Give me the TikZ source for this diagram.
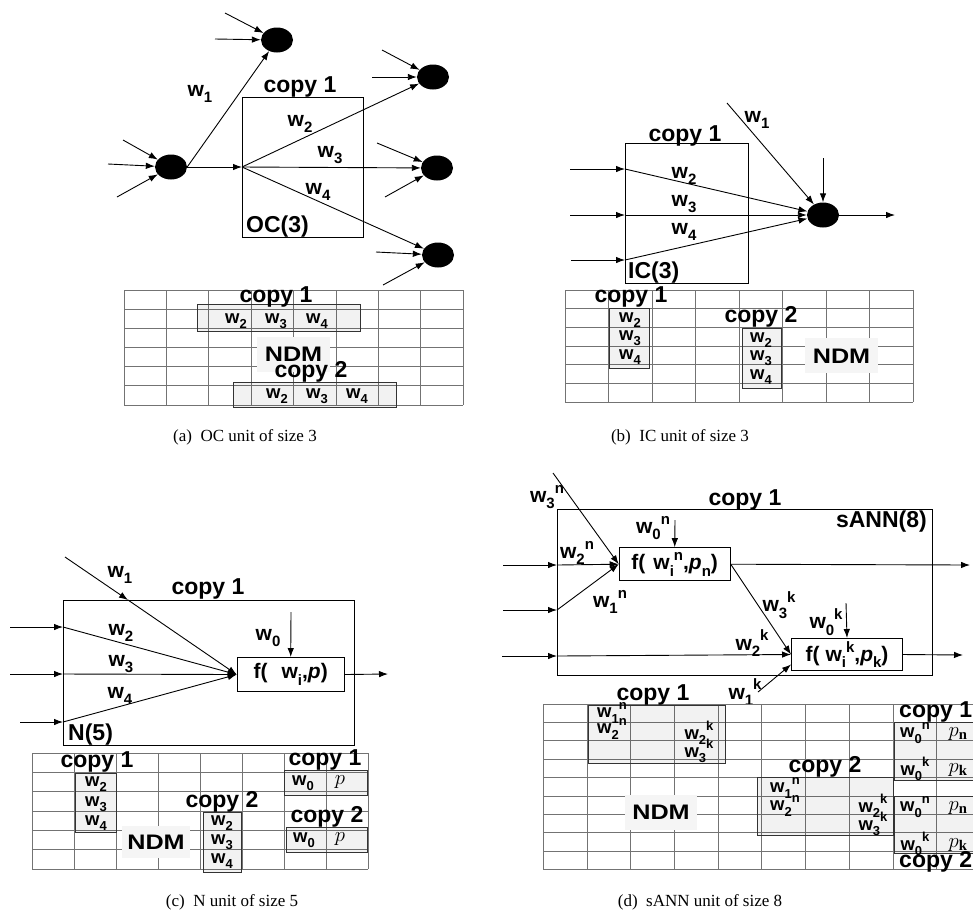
\documentclass[tikz,border=0pt]{standalone}
\usepackage{fontspec}
\setmainfont{Liberation Serif}
\newfontfamily\lf{Liberation Sans}
\usetikzlibrary{shapes.geometric,arrows.meta,fit}
\newcommand\W[2][15]{w\raisebox{-0.3em}{\fontsize{#1}{#1}\selectfont #2}}
\newcommand\WS[3][15]{w\raisebox{-0.3em}{\fontsize{#1}{#1}\selectfont #2}\raisebox{0.45em}{\fontsize{#1}{#1}\selectfont #3}}
\newcommand\tablegrid[6]{%
  \foreach \i in {0,...,#3} \draw[gridl] ({#1+\i*#5},#2) -- ({#1+\i*#5},{#2+#4*#6});
  \foreach \j in {0,...,#4} \draw[gridl] (#1,{#2+\j*#6}) -- ({#1+#3*#5},{#2+\j*#6});
}
\begin{document}
\begin{tikzpicture}[x=1pt,y=-1pt,
  lab/.style={font=\lf\bfseries\fontsize{21}{21}\selectfont, inner sep=0},
  cp/.style={font=\lf\bfseries\fontsize{23}{23}\selectfont, inner sep=0},
  tl/.style={font=\lf\bfseries\fontsize{18.5}{18.5}\selectfont, inner sep=0},
  ml/.style={font=\fontsize{21}{21}\selectfont, inner sep=0},
  neuron/.style={ellipse, fill=black, minimum width=32pt, minimum height=25pt, inner sep=0},
  arr/.style={-{Latex[length=9pt,width=6.5pt]}, line width=0.9pt},
  boxf/.style={draw, line width=1pt, inner sep=0, outer sep=0},
  gridl/.style={draw=black!55, line width=0.8pt},
  cbox/.style={draw=black!80, line width=1pt, fill=black, fill opacity=0.05, inner sep=0},
  ndm/.style={fill=black!4, inner sep=0, font=\lf\bfseries\fontsize{21}{21}\selectfont},
  capt/.style={font=\fontsize{17}{17}\selectfont, inner sep=0},
  fbox/.style={draw, line width=1pt, inner sep=0, font=\lf\bfseries\fontsize{21}{21}\selectfont}
]
\clip (0,0) rectangle (973,914);
\fill[white] (0,0) rectangle (973,914);

% ================= (a) =================
\node[neuron] (aT) at (277,40) {};
\node[neuron] (aS) at (171,167) {};
\node[neuron] (aR1) at (433,77) {};
\node[neuron] (aR2) at (437,168) {};
\node[neuron] (aR3) at (438,255) {};
\node[boxf, fit={(242,97)(363,237)}] (aBox) {};
\node[cp] (aCopy) at (300,87) {copy 1};
\node[cp, anchor=west] (aOC) at (246,227) {OC(3)};
\coordinate (aSplit) at (242,167);
\draw[arr] (aS) -- (aSplit);
\draw[arr] (aS.east) -- (aT);
\draw[arr] (aSplit) -- (aR1);
\draw[arr] (aSplit) -- (aR2);
\draw[arr] (aSplit) -- (aR3);
\coordinate (aT1) at (225,13); \coordinate (aT2) at (215,39);
\coordinate (aS1) at (123,140); \coordinate (aS2) at (108,164); \coordinate (aS3) at (117,197);
\coordinate (aR1a) at (382,50); \coordinate (aR1b) at (372,77);
\coordinate (aR2a) at (377,143); \coordinate (aR2b) at (385,197);
\coordinate (aR3a) at (376,252); \coordinate (aR3b) at (383,285);
\foreach \s/\t in {aT1/aT,aT2/aT,aS1/aS,aS2/aS,aS3/aS,aR1a/aR1,aR1b/aR1,aR2a/aR2,aR2b/aR2,aR3a/aR3,aR3b/aR3}
  \draw[arr] (\s) -- (\t);
\node[lab] (aw1) at (200,94) {\W{1}};
\node[lab] (aw2) at (300,124) {\W{2}};
\node[lab] (aw3) at (330,155) {\W{3}};
\node[lab] (aw4) at (318,192) {\W{4}};
% table (a)
\tablegrid{124}{290}{8}{6}{42.4}{19.17}
\node[cbox, fit={(197,304)(360,331)}] (aC1) {};
\node[cbox, fit={(233,382)(396,407)}] (aC2) {};
\node[tl] (aC1w2) at (236,321) {\W[13]{2}};
\node[tl] (aC1w3) at (276,321) {\W[13]{3}};
\node[tl] (aC1w4) at (317,321) {\W[13]{4}};
\node[tl] (aC2w2) at (277,396) {\W[13]{2}};
\node[tl] (aC2w3) at (317,396) {\W[13]{3}};
\node[tl] (aC2w4) at (357,396) {\W[13]{4}};
\node[ndm, minimum width=73pt, minimum height=35pt] (aNDM) at (293.5,354.5) {\scalebox{1.2}[1]{NDM}};
\node[cp] (aCL1) at (276,297) {copy 1};
\node[cp] (aCL2) at (311,372) {copy 2};
\node[capt] (capA) at (245,437) {(a)\ \ OC unit of size 3};

% ================= (b) =================
\node[boxf, fit={(625,143)(748,283)}] (bBox) {};
\node[neuron] (bN) at (823,215) {};
\node[cp] (bCopy) at (685,136) {copy 1};
\node[cp, anchor=west] (bIC) at (628,273) {IC(3)};
\coordinate (bI2s) at (570,169); \coordinate (bI2e) at (625,169);
\coordinate (bI3s) at (570,215); \coordinate (bI3e) at (625,215);
\coordinate (bI4s) at (571,260); \coordinate (bI4e) at (625,260);
\foreach \k in {2,3,4} {
  \draw[arr] (bI\k s) -- (bI\k e);
  \draw[arr] (bI\k e) -- (bN);
}
\coordinate (bW1) at (727,103);
\draw[arr] (bW1) -- (bN);
\coordinate (bTop) at (823,158);
\draw[arr] (bTop) -- (bN);
\coordinate (bOut) at (895,215);
\draw[arr] (bN) -- (bOut);
\node[lab] (bw1) at (757,120) {\W{1}};
\node[lab] (bw2) at (684,176) {\W{2}};
\node[lab] (bw3) at (684,204) {\W{3}};
\node[lab] (bw4) at (684,232) {\W{4}};
% table (b)
\tablegrid{565}{290}{8}{6}{43.5}{18.7}
\node[cbox, fit={(609,308)(649,368)}] (bC1) {};
\node[cbox, fit={(742,328)(781,388)}] (bC2) {};
\node[tl] (bC1w2) at (630,320) {\W[13]{2}};
\node[tl] (bC1w3) at (630,338) {\W[13]{3}};
\node[tl] (bC1w4) at (630,357) {\W[13]{4}};
\node[tl] (bC2w2) at (761,340) {\W[13]{2}};
\node[tl] (bC2w3) at (761,358) {\W[13]{3}};
\node[tl] (bC2w4) at (761,377) {\W[13]{4}};
\node[ndm, minimum width=73pt, minimum height=35pt] (bNDM) at (841.5,355.8) {\scalebox{1.2}[1]{NDM}};
\node[cp] (bCL1) at (631,297) {copy 1};
\node[cp] (bCL2) at (761,317) {copy 2};
\node[capt] (capB) at (680,437) {(b)\ \ IC unit of size 3};

% ================= (c) =================
\node[boxf, fit={(63,600)(354,745)}] (cBox) {};
\node[fbox, minimum width=107pt, minimum height=34pt] (cF) at (290.7,674.5) {f(\hspace{14pt}\W{i},\textit{p})};
\node[cp] (cCopy) at (208,589) {copy 1};
\node[cp, anchor=west] (cN5) at (68,735) {N(5)};
\coordinate (cW0) at (291,612);
\draw[arr] (cW0) -- (cF.north);
\coordinate (cOut) at (388,674);
\draw[arr] (cF.east) -- (cOut);
\coordinate (cI2s) at (10,627); \coordinate (cI2e) at (63,627);
\coordinate (cI3s) at (10,674); \coordinate (cI3e) at (63,674);
\coordinate (cI4s) at (20,722); \coordinate (cI4e) at (63,722);
\foreach \k in {2,3,4} {
  \draw[arr] (cI\k s) -- (cI\k e);
  \draw[arr] (cI\k e) -- (cF.west);
}
\coordinate (cW1s) at (65,557); \coordinate (cW1m) at (128,600);
\draw[arr] (cW1s) -- (cW1m);
\draw[arr] (cW1m) -- (cF.west);
\node[lab] (cw1) at (120,575) {\W{1}};
\node[lab] (cw2) at (121,633) {\W{2}};
\node[lab] (cw3) at (121,664) {\W{3}};
\node[lab] (cw4) at (120,696) {\W{4}};
\node[lab] (cw0) at (268,638) {\W{0}};
% table (c)
\tablegrid{32}{753}{8}{6}{42}{19.33}
\node[cbox, fit={(75,773)(116,832)}] (cC1) {};
\node[cbox, fit={(203,812)(241,872)}] (cC2) {};
\node[cbox, fit={(284,770)(367,795)}] (cR1) {};
\node[cbox, fit={(286,827)(367,852)}] (cR2) {};
\node[tl] (cC1w2) at (96,784) {\W[13]{2}};
\node[tl] (cC1w3) at (96,804) {\W[13]{3}};
\node[tl] (cC1w4) at (96,823) {\W[13]{4}};
\node[tl] (cC2w2) at (222,823) {\W[13]{2}};
\node[tl] (cC2w3) at (222,842) {\W[13]{3}};
\node[tl] (cC2w4) at (222,861) {\W[13]{4}};
\node[tl] (cR1w0) at (303,783) {\W[13]{0}};
\node[ml] (cR1p) at (340,782) {$p$};
\node[tl] (cR2w0) at (304,840) {\W[13]{0}};
\node[ml] (cR2p) at (340,839) {$p$};
\node[ndm, minimum width=68pt, minimum height=32pt] (cNDM) at (156,842) {\scalebox{1.2}[1]{NDM}};
\node[cp] (cCL1) at (97,762) {copy 1};
\node[cp] (cCL2) at (222,802) {copy 2};
\node[cp] (cCR1) at (325,760) {copy 1};
\node[cp] (cCR2) at (327,817) {copy 2};
\node[capt] (capC) at (232,902) {(c)\ \ N unit of size 5};

% ================= (d) =================
\node[boxf, fit={(557,509)(932,675)}] (dBox) {};
\node[fbox, minimum width=111pt, minimum height=33pt] (fn) at (674.7,564.2) {f(\hspace{8pt}\WS{i}{n},\textit{p}\raisebox{-0.3em}{\fontsize{15}{15}\selectfont n})};
\node[fbox, minimum width=111pt, minimum height=32pt] (fk) at (847,654.5) {f(\hspace{6pt}\WS{i}{k},\textit{p}\raisebox{-0.3em}{\fontsize{15}{15}\selectfont k})};
\node[cp] (dCopy) at (745,500) {copy 1};
\node[cp, anchor=east] (dSANN) at (927,522) {sANN(8)};
\coordinate (dI1s) at (503,565); \coordinate (dI1e) at (557,565);
\coordinate (dI2s) at (503,610); \coordinate (dI2e) at (557,610);
\coordinate (dI3s) at (502,656); \coordinate (dI3e) at (557,656);
\draw[arr] (dI1s) -- (dI1e); \draw[arr] (dI1e) -- (fn.west);
\draw[arr] (dI2s) -- (dI2e); \draw[arr] (dI2e) -- (fn.west);
\draw[arr] (dI3s) -- (dI3e); \draw[arr] (dI3e) -- (fk.west);
\coordinate (dW3n) at (553,473);
\draw[arr] (dW3n) -- (fn.west);
\coordinate (dW0n) at (675,520);
\draw[arr] (dW0n) -- (fn.north);
\coordinate (dOutN) at (970,565);
\draw[arr] (fn.east) -- (dOutN);
\draw[arr] (fn.east) -- (fk.west);
\coordinate (dW0k) at (846,603);
\draw[arr] (dW0k) -- (fk.north);
\coordinate (dOutK) at (963,655);
\draw[arr] (fk.east) -- (dOutK);
\coordinate (dW1k) at (758,692);
\draw[arr] (dW1k) -- ([yshift=-10pt]fk.west);
\node[lab] (dw3n) at (547,497) {\WS{3}{n}};
\node[lab] (dw0n) at (653,528) {\WS{0}{n}};
\node[lab] (dw2n) at (577,553) {\WS{2}{n}};
\node[lab] (dw1n) at (610,602) {\WS{1}{n}};
\node[lab] (dw3k) at (779,605) {\WS{3}{k}};
\node[lab] (dw0k) at (826,622) {\WS{0}{k}};
\node[lab] (dw2k) at (752,643) {\WS{2}{k}};
\node[lab] (dw1k) at (745,692) {\WS{1}{k}};
% table (d)
\tablegrid{543.3}{704}{10}{9}{43.7}{18.4}
\node[cbox, fit={(588,705)(725,763)}] (dC1) {};
\node[cbox, fit={(757,777)(893,835)}] (dC2) {};
\node[cbox, fit={(894,722)(980,780)}] (dR1) {};
\node[cbox, fit={(894,796)(980,853)}] (dR2) {};
\node[tl] (dC1a) at (612,713) {\WS[13]{1}{n}};
\node[tl] (dC1b) at (612,729) {\WS[13]{2}{n}};
\node[tl] (dC1c) at (699,733) {\WS[13]{2}{k}};
\node[tl] (dC1d) at (699,751) {\WS[13]{3}{k}};
\node[tl] (dC2a) at (785,788) {\WS[13]{1}{n}};
\node[tl] (dC2b) at (785,806) {\WS[13]{2}{n}};
\node[tl] (dC2c) at (873,806) {\WS[13]{2}{k}};
\node[tl] (dC2d) at (873,824) {\WS[13]{3}{k}};
\node[tl] (dR1a) at (915,733) {\WS[13]{0}{n}};
\node[ml] (dR1b) at (958,734) {$p_{\mathbf{n}}$};
\node[tl] (dR1c) at (915,769) {\WS[13]{0}{k}};
\node[ml] (dR1d) at (958,770) {$p_{\mathbf{k}}$};
\node[tl] (dR2a) at (915,807) {\WS[13]{0}{n}};
\node[ml] (dR2b) at (958,808) {$p_{\mathbf{n}}$};
\node[tl] (dR2c) at (915,844) {\WS[13]{0}{k}};
\node[ml] (dR2d) at (958,845) {$p_{\mathbf{k}}$};
\node[ndm, minimum width=72pt, minimum height=35pt] (dNDM) at (661,812.5) {\scalebox{1.2}[1]{NDM}};
\node[cp] (dCL1) at (653,695) {copy 1};
\node[cp] (dCL2) at (825,767) {copy 2};
\node[cp, anchor=west] (dCR1) at (899,712) {copy 1};
\node[cp, anchor=west] (dCR2) at (899,862) {copy 2};
\node[capt] (capD) at (700,902) {(d)\ \ sANN unit of size 8};
\end{tikzpicture}
\end{document}
